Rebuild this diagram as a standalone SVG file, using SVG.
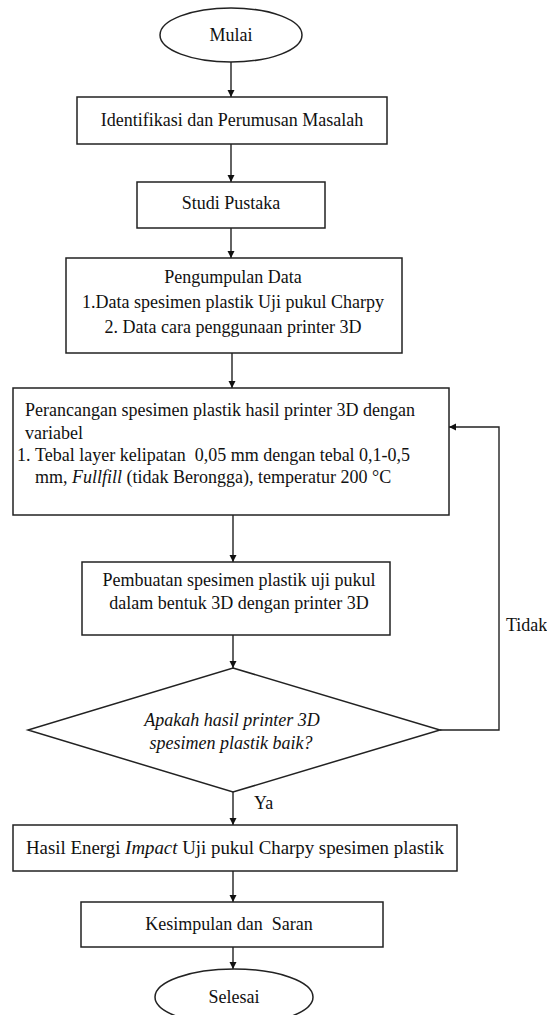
<svg xmlns="http://www.w3.org/2000/svg" width="547" height="1015" viewBox="0 0 547 1015">
<defs>
<marker id="ah" viewBox="0 0 10 10" refX="10" refY="5" markerWidth="7" markerHeight="8" markerUnits="userSpaceOnUse" orient="auto">
<path d="M0,0 L10,5 L0,10 z" fill="#111"/>
</marker>
<style>
.s{fill:#fff;stroke:#222;stroke-width:1.5}
.c{fill:none;stroke:#222;stroke-width:1.4}
text{font-family:"Liberation Serif","Times New Roman",serif;font-size:18px;fill:#111;white-space:pre}
.m{text-anchor:middle}
.i{font-style:italic}
</style>
</defs>
<rect width="547" height="1015" fill="#fff"/>
<g id="connectors">
<path class="c" d="M231,62 V97" marker-end="url(#ah)"/>
<path class="c" d="M231,144 V182" marker-end="url(#ah)"/>
<path class="c" d="M231,228 V258" marker-end="url(#ah)"/>
<path class="c" d="M232,353 V388" marker-end="url(#ah)"/>
<path class="c" d="M233,515 V562" marker-end="url(#ah)"/>
<path class="c" d="M233,635 V668" marker-end="url(#ah)"/>
<path class="c" d="M440,730 H499 V427 H449" marker-end="url(#ah)"/>
<path class="c" d="M233,792 V825" marker-end="url(#ah)"/>
<path class="c" d="M233,871 V902" marker-end="url(#ah)"/>
<path class="c" d="M233,947 V969" marker-end="url(#ah)"/>
<text x="254" y="809">Ya</text>
<text x="506" y="631">Tidak</text>
</g>
<g id="mulai">
<ellipse class="s" cx="231" cy="35" rx="71" ry="27"/>
<text class="m" x="231" y="41">Mulai</text>
</g>
<g id="identifikasi">
<rect class="s" x="77" y="97" width="310" height="47"/>
<text class="m" x="232" y="126">Identifikasi dan Perumusan Masalah</text>
</g>
<g id="studi">
<rect class="s" x="137" y="182" width="188" height="46"/>
<text class="m" x="231" y="209">Studi Pustaka</text>
</g>
<g id="pengumpulan">
<rect class="s" x="66" y="258" width="336" height="95"/>
<text class="m" x="233" y="283">Pengumpulan Data</text>
<text class="m" x="233" y="308">1.Data spesimen plastik Uji pukul Charpy</text>
<text class="m" x="233" y="333">2. Data cara penggunaan printer 3D</text>
</g>
<g id="perancangan">
<rect class="s" x="13" y="388" width="436" height="127"/>
<text x="25" y="416">Perancangan spesimen plastik hasil printer 3D dengan</text>
<text x="25" y="439">variabel</text>
<text x="17" y="461">1.</text>
<text x="35" y="461">Tebal layer kelipatan  0,05 mm dengan tebal 0,1-0,5</text>
<text x="35" y="483">mm, <tspan class="i">Fullfill</tspan> (tidak Berongga), temperatur 200 °C</text>
</g>
<g id="pembuatan">
<rect class="s" x="82" y="562" width="308" height="73"/>
<text class="m" x="239" y="586">Pembuatan spesimen plastik uji pukul</text>
<text class="m" x="239" y="609">dalam bentuk 3D dengan printer 3D</text>
</g>
<g id="keputusan">
<polygon class="s" points="233,668 440,730 233,792 28,730"/>
<text class="m i" x="232" y="726">Apakah hasil printer 3D</text>
<text class="m i" x="231" y="749">spesimen plastik baik?</text>
</g>
<g id="hasil">
<rect class="s" x="13" y="825" width="444" height="46"/>
<text class="m" x="235" y="854" textLength="418" lengthAdjust="spacingAndGlyphs">Hasil Energi <tspan class="i">Impact</tspan> Uji pukul Charpy spesimen plastik</text>
</g>
<g id="kesimpulan">
<rect class="s" x="81" y="902" width="302" height="45"/>
<text class="m" x="229" y="930">Kesimpulan dan  Saran</text>
</g>
<g id="selesai">
<ellipse class="s" cx="234" cy="997" rx="79" ry="28"/>
<text class="m" x="234" y="1003">Selesai</text>
</g>
</svg>
